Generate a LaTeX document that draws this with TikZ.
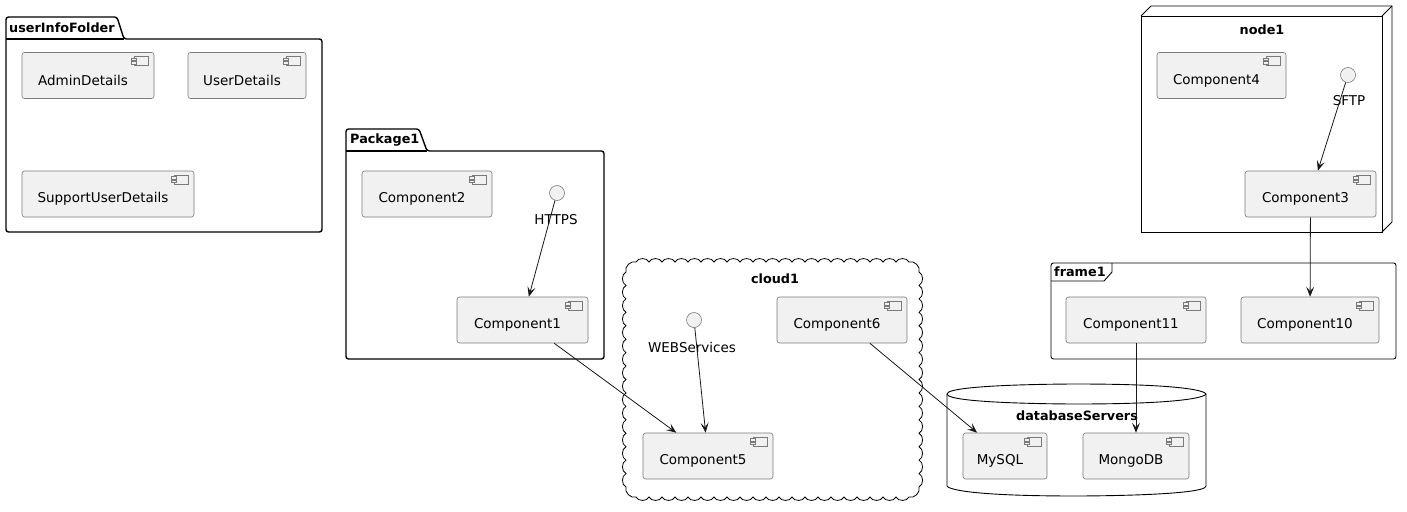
\documentclass[tikz,border=0pt]{standalone}
\usepackage{fontspec}
\setmainfont{DejaVu Sans}
\usetikzlibrary{arrows.meta}
\definecolor{compfill}{HTML}{F1F1F1}
\definecolor{compline}{HTML}{7A7A7A}
\definecolor{ink}{HTML}{181818}
\begin{document}
\begin{tikzpicture}[x=1pt,y=-1pt,
  txt/.style={font=\fontsize{13.5}{16}\selectfont, inner sep=0pt},
  ttl/.style={font=\fontsize{12.8}{15}\selectfont\bfseries, inner sep=0pt},
  comp/.style={draw=compline, fill=compfill, rounded corners=2.5pt, line width=0.6pt,
    minimum height=46pt, inner sep=0pt,
    path picture={
      \coordinate (ne) at (path picture bounding box.north east);
      \begin{scope}[sharp corners, compline, line width=0.5pt]
        \draw[fill=compfill] ([shift={(-20pt,-4pt)}]ne) rectangle ([shift={(-6pt,-13pt)}]ne);
        \draw[fill=compfill] ([shift={(-23pt,-5.5pt)}]ne) rectangle ([shift={(-18pt,-8pt)}]ne);
        \draw[fill=compfill] ([shift={(-23pt,-9pt)}]ne) rectangle ([shift={(-18pt,-11.5pt)}]ne);
      \end{scope}
    }},
  ctext/.style={label={[txt, xshift=-5pt, yshift=-5pt]center:#1}},
  iface/.style={circle, draw=compline, fill=compfill, line width=0.6pt, minimum size=15pt, inner sep=0pt},
  pkg/.style={draw=black, line width=1.4pt, rounded corners=2.5pt},
  box/.style={draw=black, line width=0.9pt},
  cloudarc/.style={bend left=65},
  arr/.style={draw=ink, line width=0.8pt, -{Stealth[length=10pt,width=8pt,inset=4.5pt]}}
]
\useasboundingbox[fill=white] (0,0) rectangle (1407,511);

% ---- userInfoFolder package ----
\draw[pkg] (6,39) -- (6,17) -- (117,17) -- (124,39) -- (322,39) -- (322,232) -- (6,232) -- cycle;
\draw[pkg, sharp corners] (6,39) -- (124,39);
\node[ttl, anchor=west] (tUser) at (9,28) {userInfoFolder};
\node[comp, minimum width=132pt, ctext=AdminDetails] (admin) at (88,75.5) {};
\node[comp, minimum width=118pt, ctext=UserDetails] (user) at (247,75.5) {};
\node[comp, minimum width=172pt, ctext=SupportUserDetails] (support) at (108,194) {};

% ---- Package1 ----
\draw[pkg] (346,151) -- (346,129) -- (419,129) -- (427,151) -- (604,151) -- (604,359) -- (346,359) -- cycle;
\draw[pkg, sharp corners] (346,151) -- (427,151);
\node[ttl, anchor=west] (tPkg) at (350,140) {Package1};
\node[comp, minimum width=130pt, ctext=Component2] (c2) at (427,194) {};
\node[iface] (https) at (557,193) {};
\node[txt] (httpsL) at (556,220) {HTTPS};
\node[comp, minimum width=131pt, ctext=Component1] (c1) at (522.5,320) {};

% ---- cloud1 ----
\draw[box, line width=0.8pt] (626,272) to[cloudarc] (636,262)
  \foreach \i in {1,...,21} { to[cloudarc] ++(13,0) }
  to[cloudarc] ++(10,10)
  \foreach \i in {1,...,16} { to[cloudarc] ++(0,13.4375) }
  to[cloudarc] ++(-10,10)
  \foreach \i in {1,...,21} { to[cloudarc] ++(-13,0) }
  to[cloudarc] ++(-10,-10)
  \foreach \i in {1,...,16} { to[cloudarc] ++(0,-13.4375) };
\node[ttl] (tCloud) at (775,279) {cloud1};
\node[iface] (web) at (694,320) {};
\node[txt] (webL) at (692,347) {WEBServices};
\node[comp, minimum width=130pt, ctext=Component6] (c6) at (842,320) {};
\node[comp, minimum width=130pt, ctext=Component5] (c5) at (708,456) {};

% ---- node1 ----
\draw[box] (1141,16) rectangle (1382,232);
\draw[box] (1141,16) -- (1151,6) -- (1392,6) -- (1392,222) -- (1382,232);
\draw[box] (1382,16) -- (1392,6);
\node[ttl] (tNode) at (1262,30) {node1};
\node[comp, minimum width=129pt, ctext=Component4] (c4) at (1221.5,75.5) {};
\node[iface] (sftp) at (1348,75) {};
\node[txt] (sftpL) at (1349,101) {SFTP};
\node[comp, minimum width=131pt, ctext=Component3] (c3) at (1310.5,194) {};

% ---- frame1 ----
\draw[box, rounded corners=2.5pt] (1051,263) rectangle (1396,359);
\draw[box] (1051,281) -- (1104,281) -- (1112,272) -- (1112,263);
\node[ttl, anchor=west] (tFrame) at (1054,272) {frame1};
\node[comp, minimum width=140pt, ctext=Component11] (c11) at (1136,320) {};
\node[comp, minimum width=138pt, ctext=Component10] (c10) at (1310,320) {};

% ---- databaseServers ----
\draw[box] (947,394) .. controls (947,384) and (1076,384) .. (1076,384)
  .. controls (1206,384) and (1206,394) .. (1206,394)
  -- (1206,486) .. controls (1206,496) and (1076,496) .. (1076,496)
  .. controls (947,496) and (947,486) .. (947,486) -- cycle;
\draw[box] (947,394) .. controls (947,404) and (1076,404) .. (1076,404)
  .. controls (1206,404) and (1206,394) .. (1206,394);
\node[ttl] (tDb) at (1077,416) {databaseServers};
\node[comp, minimum width=84pt, ctext=MySQL] (mysql) at (1005,456) {};
\node[comp, minimum width=106pt, ctext=MongoDB] (mongo) at (1136,456) {};

% ---- connectors ----
\draw[arr] (https) -- (c1);
\draw[arr] (c1) -- (c5);
\draw[arr] (web) -- (c5);
\draw[arr] (c6) -- (mysql);
\draw[arr] (sftp) -- (c3);
\draw[arr] (c3) -- (c10);
\draw[arr] (c11) -- (mongo);
\end{tikzpicture}
\end{document}
